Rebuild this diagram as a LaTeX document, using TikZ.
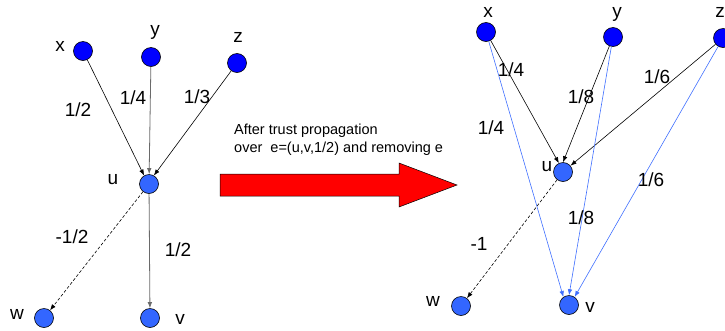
\documentclass[tikz,border=0pt]{standalone}
\usepackage{fontspec}
\setmainfont{Liberation Sans}
\usetikzlibrary{arrows.meta}
\definecolor{srcblue}{HTML}{0000FF}
\definecolor{midblue}{HTML}{3366FF}
\definecolor{edgeblue}{HTML}{3F6FFF}
\definecolor{edgegray}{HTML}{6A6A6A}
\definecolor{bigred}{HTML}{FF0000}

\begin{document}
\begin{tikzpicture}[x=1pt, y=-1pt,
  src/.style={circle, draw, line width=0.6pt, fill=srcblue, minimum size=19pt, inner sep=0pt},
  mid/.style={circle, draw, line width=0.6pt, fill=midblue, minimum size=19pt, inner sep=0pt},
  vlabel/.style={font=\fontsize{19}{21}\selectfont, inner sep=0pt, text height=9.8pt, text depth=0pt},
  weight/.style={font=\fontsize{19}{21}\selectfont, inner sep=0pt, text height=13.6pt, text depth=0pt},
  caption/.style={font=\fontsize{14.5}{18}\selectfont, align=left, inner sep=0pt},
  link/.style={-{Latex[length=6pt,width=4.5pt]}, line width=0.6pt},
  neg/.style={link, dash pattern=on 3pt off 2pt},
]
\useasboundingbox (0,0) rectangle (725,330);

\node[src] (x1) at (83, 51) {};
\node[src] (y1) at (151, 57) {};
\node[src] (z1) at (237, 63) {};
\node[mid] (u1) at (149, 184) {};
\node[mid] (w1) at (44, 318) {};
\node[mid] (v1) at (150, 318) {};

\node[vlabel] (nx1) at (60, 47) {x};
\node[vlabel] (ny1) at (155, 31) {y};
\node[vlabel] (nz1) at (238, 38) {z};
\node[vlabel] (nu1) at (113, 180) {u};
\node[vlabel] (nw1) at (17, 315) {w};
\node[vlabel] (nv1) at (180, 320) {v};

\draw[link] (x1) -- (u1.120);
\draw[link, edgegray, line width=0.8pt] (y1) -- (u1);
\draw[link] (z1) -- (u1.60);
\draw[neg] (u1) -- (w1);
\draw[link, edgegray, line width=0.8pt] (u1) -- (v1);

\node[weight] (wxu1) at (78, 110) {1/2};
\node[weight] (wyu1) at (133, 98) {1/4};
\node[weight] (wzu1) at (197, 97) {1/3};
\node[weight] (wuw1) at (72, 237) {-1/2};
\node[weight] (wuv1) at (178, 250) {1/2};

\filldraw[fill=bigred, draw=black, line width=0.5pt] (220,174) -- (399,174) -- (399,163)
  -- (457,185) -- (399,207) -- (399,196) -- (220,196) -- cycle;
\node[caption, anchor=west] (cap) at (234, 140) {After trust propagation\\over\ \ e=(u,v,1/2) and removing e};

\node[src] (x2) at (486, 32) {};
\node[src] (y2) at (613, 37) {};
\node[src] (z2) at (723, 38) {};
\node[mid] (u2) at (563, 172) {};
\node[mid] (w2) at (461, 306) {};
\node[mid] (v2) at (569, 305) {};

\node[vlabel] (nx2) at (488, 13) {x};
\node[vlabel] (ny2) at (617, 13) {y};
\node[vlabel] (nz2) at (720, 13) {z};
\node[vlabel] (nu2) at (547, 167) {u};
\node[vlabel] (nw2) at (433, 302) {w};
\node[vlabel] (nv2) at (590, 308) {v};

\draw[link] (x2) -- (u2.115);
\draw[link] (y2) -- (u2.90);
\draw[link] (z2) -- (u2.40);
\draw[link, edgeblue] (x2) -- (v2.125);
\draw[link, edgeblue] (y2) -- (v2.90);
\draw[link, edgeblue] (z2) -- (v2.55);
\draw[neg] (u2) -- (w2);

\node[weight] (wxu2) at (511, 70) {1/4};
\node[weight] (wyu2) at (581, 97) {1/8};
\node[weight] (wzu2) at (657, 77) {1/6};
\node[weight] (wxv2) at (491, 128) {1/4};
\node[weight] (wzv2) at (651, 180) {1/6};
\node[weight] (wyv2) at (581, 218) {1/8};
\node[weight] (wuw2) at (479, 244) {-1};

\end{tikzpicture}
\end{document}
